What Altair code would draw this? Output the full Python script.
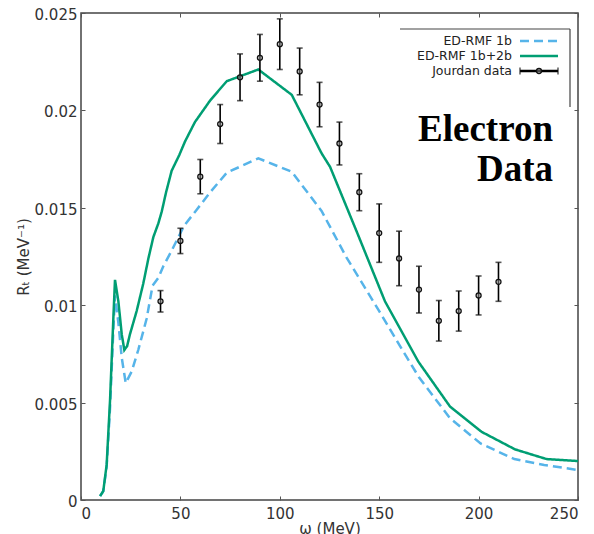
import altair as alt
import pandas as pd

# ---- data ----
W_1B = [9.6, 11.2, 12.9, 14.6, 16.3, 17.1, 18.8, 20.5, 22.5, 25.5, 28.8, 33.0, 36.0,
        38.9, 41.4, 45.6, 49.0, 52.0, 58.2, 65.0, 73.3, 89.2, 106.0, 121.0, 133.6,
        150.0, 160.5, 170.0, 185.6, 201.0, 218.0, 233.0, 250.0]
R_1B = [0.0002, 0.00045, 0.0017, 0.0047, 0.0088, 0.0105, 0.0091, 0.0073, 0.0060,
        0.0066, 0.0077, 0.0093, 0.0110, 0.0114, 0.0120, 0.0128, 0.0135, 0.0141,
        0.0149, 0.0158, 0.0168, 0.01754, 0.01685, 0.01484, 0.01244, 0.0097, 0.0079,
        0.0063, 0.0042, 0.0029, 0.0021, 0.0018, 0.00154]

W_1B2B = [9.6, 11.2, 12.9, 14.6, 16.3, 17.1, 18.8, 20.5, 21.8, 23.2, 24.6, 28.0, 31.3,
          33.9, 36.4, 38.9, 40.6, 42.8, 45.6, 49.4, 52.3, 57.3, 64.9, 73.3, 89.2,
          106.0, 121.0, 125.3, 139.0, 152.9, 169.7, 185.6, 201.5, 218.3, 234.2, 250.0]
R_1B2B = [0.0002, 0.00046, 0.0018, 0.0051, 0.0094, 0.0113, 0.0102, 0.0085, 0.0077,
          0.0079, 0.0085, 0.0097, 0.0111, 0.0124, 0.0135, 0.0142, 0.0148, 0.0158,
          0.0169, 0.0177, 0.0184, 0.0194, 0.0205, 0.0215, 0.0221, 0.0208, 0.0178,
          0.0171, 0.0137, 0.0102, 0.0071, 0.0048, 0.0035, 0.0026, 0.0021, 0.0020]

W_DATA = [40, 50, 60, 70, 80, 90, 100, 110, 120, 130, 140, 150, 160, 170, 180, 190, 200, 210]
R_DATA = [0.0102, 0.0133, 0.0166, 0.0193, 0.0217, 0.0227, 0.0234, 0.0220, 0.0203,
          0.0183, 0.0158, 0.0137, 0.0124, 0.0108, 0.0092, 0.0097, 0.0105, 0.0112]
E_DATA = [0.00055, 0.00065, 0.00088, 0.0010, 0.0012, 0.0012, 0.0013, 0.0012, 0.00114,
          0.0011, 0.00095, 0.0015, 0.0014, 0.0012, 0.00104, 0.00103, 0.001, 0.001]

SERIES = ["ED-RMF 1b", "ED-RMF 1b+2b", "Jourdan data"]
COLORS = ["#56B4E9", "#009E73", "#000000"]
DASHES = [[9, 5], [1, 0], [1, 0]]
X_TICKS = [0, 50, 100, 150, 200, 250]
Y_TICKS = [0, 0.005, 0.01, 0.015, 0.02, 0.025]
ANNOTATION = ["Electron", "Data"]

df1 = pd.DataFrame({"w": W_1B, "r": R_1B, "series": SERIES[0]})
df2 = pd.DataFrame({"w": W_1B2B, "r": R_1B2B, "series": SERIES[1]})
dd = pd.DataFrame({"w": W_DATA, "r": R_DATA, "series": SERIES[2]})
dd["lo"] = dd["r"] - pd.Series(E_DATA)
dd["hi"] = dd["r"] + pd.Series(E_DATA)
dleg = pd.DataFrame({"series": SERIES})

FONT = "DejaVu Sans"
xs = alt.Scale(domain=[0, 250], nice=False, zero=False)
ys = alt.Scale(domain=[0, 0.025], nice=False)

color = alt.Color("series:N", scale=alt.Scale(domain=SERIES, range=COLORS), legend=None)
dash = alt.StrokeDash("series:N", scale=alt.Scale(domain=SERIES, range=DASHES), legend=None)

ax_x_main = alt.Axis(orient="bottom", title="ω (MeV)", values=X_TICKS, format="d",
                     ticks=False, tickSize=0, domain=False, grid=False,
                     labelPadding=6, titlePadding=0)
ax_y_main = alt.Axis(orient="left", title="Rₜ (MeV⁻¹)", values=Y_TICKS, format="~g",
                     ticks=False, tickSize=0, domain=False, grid=False,
                     labelPadding=4, titlePadding=3, labelOffset=1.5)


def tick_axis(orient, vals):
    return alt.Axis(orient=orient, offset=-4, tickSize=4, values=vals, labels=False,
                    domain=False, grid=False, title=None, tickColor="#555", tickWidth=1)


blue = alt.Chart(df1).mark_line(strokeWidth=2.5, clip=True).encode(
    x=alt.X("w:Q", scale=xs, axis=ax_x_main),
    y=alt.Y("r:Q", scale=ys, axis=ax_y_main),
    color=color, strokeDash=dash, order="w:Q")

green = alt.Chart(df2).mark_line(strokeWidth=2.5, clip=True).encode(
    x=alt.X("w:Q", scale=xs, axis=tick_axis("bottom", X_TICKS)),
    y=alt.Y("r:Q", scale=ys, axis=tick_axis("left", Y_TICKS)),
    color=color, strokeDash=dash, order="w:Q")

bars = alt.Chart(dd).mark_rule(strokeWidth=1.6).encode(
    x=alt.X("w:Q", scale=xs, axis=tick_axis("top", X_TICKS)),
    y=alt.Y("lo:Q", scale=ys, axis=tick_axis("right", Y_TICKS)),
    y2="hi:Q", color=color)

caps_lo = alt.Chart(dd).mark_tick(orient="horizontal", size=6, thickness=1.6, color="#111").encode(
    x=alt.X("w:Q", scale=xs, axis=None), y=alt.Y("lo:Q", scale=ys, axis=None))
caps_hi = alt.Chart(dd).mark_tick(orient="horizontal", size=6, thickness=1.6, color="#111").encode(
    x=alt.X("w:Q", scale=xs, axis=None), y=alt.Y("hi:Q", scale=ys, axis=None))
pts = alt.Chart(dd).mark_point(filled=False, size=25, strokeWidth=1.3, color="#111",
                               fill="#999", fillOpacity=0.5).encode(
    x=alt.X("w:Q", scale=xs, axis=None), y=alt.Y("r:Q", scale=ys, axis=None))

one = alt.Data(values=[{"t": "\n".join(ANNOTATION)}])
note = alt.Chart(one).mark_text(align="right", baseline="alphabetic", font="Liberation Serif",
                                fontWeight="bold", fontSize=37, lineHeight=40,
                                lineBreak="\n", color="#000").encode(
    x=alt.value(472), y=alt.value(128), text="t:N")

frame_top = alt.Chart(alt.Data(values=[{}])).mark_rule(color="#444", strokeWidth=1.2).encode(
    x=alt.value(319), x2=alt.value(489), y=alt.value(16))
frame_right = alt.Chart(alt.Data(values=[{}])).mark_rule(color="#444", strokeWidth=1.2).encode(
    x=alt.value(489), y=alt.value(16), y2=alt.value(94))

plot = alt.layer(frame_top, frame_right, blue, green, bars, caps_lo, caps_hi, pts, note).resolve_axis(
    x="independent", y="independent")

# ---- legend (label left of its symbol, as in the reference) ----
ly = alt.Y("series:N", scale=alt.Scale(type="point", domain=SERIES, range=[28, 58], padding=0),
           axis=None)
leg_text = alt.Chart(dleg).mark_text(align="right", baseline="middle", font=FONT,
                                     fontSize=12.5, color="#222").encode(
    x=alt.value(431), y=ly, text="series:N")
leg_line = alt.Chart(dleg).mark_rule(strokeWidth=2.5).encode(
    x=alt.value(439), x2=alt.value(477), y=ly, color=color, strokeDash=dash)
djour = dleg[dleg["series"] == SERIES[2]]
leg_caps = alt.Chart(djour).mark_tick(orient="vertical", size=7, thickness=1.5, color="#111").encode(
    x=alt.value(439), y=ly)
leg_caps2 = alt.Chart(djour).mark_tick(orient="vertical", size=7, thickness=1.5, color="#111").encode(
    x=alt.value(477), y=ly)
leg_pt = alt.Chart(djour).mark_point(filled=False, size=25, strokeWidth=1.3, color="#111",
                                     fill="#999", fillOpacity=0.5).encode(
    x=alt.value(458), y=ly)
legend = alt.layer(leg_line, leg_caps, leg_caps2, leg_pt, leg_text)

chart = alt.layer(plot, legend).resolve_scale(y="independent").resolve_axis(
    x="independent", y="independent"
).properties(
    width=497, height=487,
    autosize=alt.AutoSizeParams(type="none"),
    padding={"left": 73, "top": 5, "right": 8, "bottom": 34},
).configure_view(stroke="#444", strokeWidth=1.5).configure_axis(
    labelFont=FONT, titleFont=FONT, labelFontSize=15, titleFontSize=15,
    labelColor="#333", titleColor="#333", titleFontWeight="normal"
)

chart.save("out.html", embed_options={"renderer": "svg", "actions": False})
